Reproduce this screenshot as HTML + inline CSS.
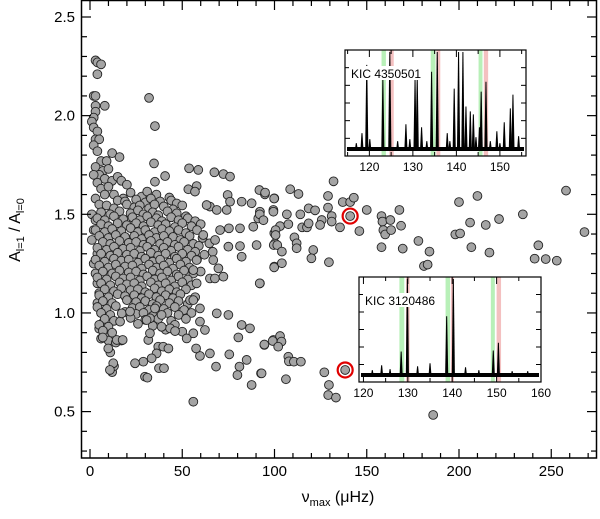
<!DOCTYPE html>
<html><head><meta charset="utf-8"><style>
html,body{margin:0;padding:0;background:#fff}
svg{display:block;font-family:"Liberation Sans","DejaVu Sans",sans-serif}
</style></head><body>
<svg id="chart" width="600" height="519" viewBox="0 0 600 519">
<g id="pts"></g>
<g id="frame"></g>
<g id="ins1"></g>
<g id="ins2"></g>
<text x="20" y="230" transform="rotate(-90 20 230)" text-anchor="middle" font-size="16">A<tspan font-size="11" dy="4">l=1</tspan><tspan dy="-4"> / A</tspan><tspan font-size="11" dy="4">l=0</tspan></text>
<text x="338" y="502" text-anchor="middle" font-size="16">ν<tspan font-size="11" dy="4">max</tspan><tspan dy="-4"> (μHz)</tspan></text>
</svg>
<script>
const NS="http://www.w3.org/2000/svg";
// ---- main scatter data: [numax, ratio] ----
const xTicks=[0,50,100,150,200,250];
const yTicks=[0.5,1.0,1.5,2.0,2.5];
const points=[
[3,2.28],[4,2.27],[6,2.26],[4,2.21],[2,2.1],[3,2.1],[8,2.05],[3,2.05],[3,2.02],[2,1.99],[1,1.97],[2,1.94],[4,1.92],[3,1.88],[5,1.88],[2,1.85],[4,1.82],[6,1.77],[12,1.81],[16,1.79],[9,1.77],[3,1.74],[7,1.72],[10,1.73],[5,1.7],[2,1.7],[8,1.68],[4,1.66],[12,1.67],[15,1.69],[17,1.67],[6,1.63],[10,1.64],[20,1.65],[3,1.58],[8,1.6],[13,1.6],[18,1.58],[1,1.5],[5,1.55],[3,1.47],[2,1.42],[1,1.37],[4,1.3],[2,1.25],[3,1.2],[4,1.15],[5,1.1],[4,1.05],[6,1.0],[7,0.95],[5,0.92],[6,0.87],[8,0.88],[10,0.86],[14,0.85],[17,0.86],[11,0.8],[12,0.7],[13,0.73],
[32,2.09],[35.2,1.947],[34.7,1.758],[40.7,1.694],[35.2,1.665],
[22,1.61],[28,1.59],[31,1.615],[36,1.6],[43,1.585],
[15,1.57],[19,1.565],[25,1.575],[30,1.56],[33,1.58],[38,1.565],[44,1.57],[47,1.555],
[9,1.545],[13,1.53],[20,1.55],[24,1.535],[27,1.545],[32,1.53],[35,1.55],[40,1.54],[45,1.525],[50,1.545],
[6,1.51],[11,1.5],[16,1.515],[22,1.505],[26,1.52],[29,1.5],[34,1.51],[37,1.495],[42,1.515],[47,1.505],[52,1.49],
[4,1.48],[8,1.47],[13,1.49],[18,1.475],[23,1.485],[27,1.47],[31,1.49],[36,1.48],[39,1.465],[44,1.485],[48,1.47],[53,1.48],[57,1.465],
[6,1.45],[10,1.44],[15,1.455],[20,1.445],[25,1.455],[29,1.44],[33,1.46],[37,1.445],[41,1.45],[46,1.435],[50,1.455],[55,1.44],[60,1.45],
[3,1.42],[8,1.41],[12,1.425],[17,1.415],[22,1.43],[26,1.41],[30,1.42],[35,1.41],[39,1.425],[43,1.415],[48,1.42],[52,1.405],[58,1.42],
[5,1.39],[10,1.38],[14,1.395],[19,1.385],[24,1.39],[28,1.375],[32,1.395],[36,1.38],[40,1.39],[45,1.385],[49,1.37],[54,1.39],[61,1.38],
[7,1.36],[11,1.35],[16,1.365],[21,1.355],[25,1.36],[29,1.345],[33,1.365],[38,1.35],[42,1.36],[46,1.345],[51,1.36],[56,1.35],[59,1.34],
[4,1.33],[9,1.32],[13,1.335],[18,1.325],[22,1.33],[27,1.315],[31,1.335],[35,1.32],[40,1.33],[44,1.315],[48,1.335],[53,1.32],[57,1.31],
[6,1.3],[11,1.29],[15,1.305],[20,1.295],[24,1.3],[28,1.285],[33,1.305],[37,1.29],[41,1.3],[46,1.285],[50,1.3],[55,1.29],[62,1.295],
[3,1.27],[8,1.26],[13,1.275],[17,1.265],[21,1.27],[26,1.255],[30,1.275],[34,1.26],[38,1.27],[43,1.255],[47,1.275],[52,1.26],[58,1.27],
[5,1.24],[10,1.23],[14,1.245],[19,1.235],[23,1.24],[28,1.225],[32,1.245],[36,1.23],[40,1.24],[45,1.225],[49,1.245],[54,1.23],
[7,1.21],[12,1.2],[16,1.215],[21,1.205],[25,1.21],[29,1.195],[34,1.215],[38,1.2],[42,1.21],[47,1.195],[51,1.215],[56,1.2],[60,1.21],
[4,1.18],[9,1.17],[14,1.185],[18,1.175],[22,1.18],[27,1.165],[31,1.185],[35,1.17],[39,1.18],[44,1.165],[48,1.185],[53,1.17],
[6,1.15],[11,1.14],[16,1.155],[20,1.145],[24,1.15],[28,1.135],[33,1.155],[37,1.14],[41,1.15],[46,1.135],[50,1.155],[55,1.14],
[8,1.12],[13,1.11],[17,1.125],[22,1.115],[26,1.12],[30,1.105],[35,1.125],[39,1.11],[43,1.12],[47,1.105],[52,1.12],
[5,1.09],[10,1.08],[15,1.095],[19,1.085],[24,1.09],[28,1.075],[32,1.095],[36,1.08],[41,1.09],[45,1.075],[49,1.095],[57,1.08],
[7,1.06],[12,1.05],[20,1.065],[25,1.055],[30,1.06],[34,1.045],[38,1.065],[43,1.05],[48,1.06],[53,1.045],
[4,1.03],[9,1.02],[14,1.035],[23,1.025],[27,1.03],[32,1.015],[36,1.035],[40,1.02],[46,1.03],[51,1.015],
[6,1.0],[11,0.99],[19,1.005],[25,0.995],[29,1.0],[34,0.985],[42,1.0],[48,0.99],[55,1.0],
[8,0.97],[13,0.96],[22,0.975],[30,0.965],[37,0.97],[44,0.96],[52,0.97],
[5,0.94],[10,0.93],[26,0.945],[34,0.935],[46,0.94],[7,0.91],[12,0.9],[41,0.915],[50,0.905],
[53.7,1.733],[58.7,1.725],[67.4,1.713],[72.3,1.704],[75.9,1.691],[53.3,1.627],[57.8,1.643],[56.9,1.615],[91.8,1.623],[94.8,1.601],[99.9,1.581],[82.2,1.564],[74.6,1.598],[87.6,1.556],[99.4,1.522],[92.1,1.513],[91.2,1.479],[88.5,1.437],[81.3,1.429],[75.3,1.429],[90.3,1.344],[81.3,1.339],[82.2,1.285],[99.9,1.404],[100.3,1.353],[99.9,1.235],[92.1,1.15],[75,0.99],[68.7,0.998],[82.2,0.939],[86.7,0.922],[80.4,0.876],[94.5,0.838],[99.4,0.863],[84.9,0.762],[81,0.728],[79.9,0.685],[92.7,0.694],[87.6,0.635],[68.3,0.728],[65,0.795],[59.6,0.782],[75.5,0.79],[56,0.55],
[54.2,1.065],[59.6,1.023],[66.5,1.31],[66.8,1.268],[65,1.175],[67.7,1.175],[72.3,1.184],[69.6,1.226],[75,1.336],[64.7,1.353],[67.8,1.37],[65,1.539],[63.2,1.547],[68.7,1.522],[74.1,1.522],[75.9,1.564],[70.5,1.42],[61.4,1.395],[57.8,1.268],[56,1.217],[57.8,1.15],[56,1.065],[59.6,0.956],[62.3,0.914],[56,0.897],[52.4,0.871],[57.5,0.82],[43.4,0.922],[46.1,0.908],[38.8,0.93],[31.6,0.863],[32.5,0.897],[37,0.829],[39.7,0.829],[42.5,0.82],[36.1,0.795],[33.4,0.77],[28.9,0.753],[24.4,0.745],[37.4,0.72],[40.1,0.72],[29.8,0.677],[31.1,0.672],[12.6,0.745],[10.8,0.711],[14.5,0.863],[17.7,0.863],[9.9,0.82],[6.9,0.876],[16.3,0.956],[17.2,0.998],[21.7,1.007],[32.5,0.973],[30.7,0.964],[38.8,0.99],[35.2,1.023],
[94.9,1.61],[99.8,1.58],[108.5,1.627],[113,1.603],[132,1.667],[129,1.593],[137,1.562],[141,1.562],[143,1.584],[150,1.522],[129,1.534],[99.4,1.513],[106.7,1.5],[114,1.5],[118.5,1.53],[122,1.52],[92,1.5],[94,1.47],[103,1.44],[107.5,1.45],[115,1.434],[117.6,1.434],[118.5,1.454],[125.6,1.471],[124.7,1.446],[131,1.491],[131,1.463],[135.5,1.434],[146,1.415],[158,1.491],[158.5,1.463],[162.8,1.471],[167.7,1.522],[168.6,1.442],[159,1.42],[160,1.398],[163.2,1.42],[158,1.333],[169.5,1.326],[178,1.365],[184,1.311],[181,1.238],[183,1.245],[100.6,1.42],[100.6,1.395],[110.8,1.383],[112,1.353],[112,1.328],[99.6,1.344],[101.5,1.344],[104,1.311],[99.8,1.231],[104,1.252],[121,1.319],[120,1.277],[129.5,1.257],[92,1.15],
[200,1.562],[210,1.593],[198,1.398],[200.6,1.403],[206,1.458],[214.5,1.446],[221.7,1.476],[234.6,1.5],[258,1.62],[268,1.41],[206.7,1.333],[216.5,1.306],[243,1.343],[241,1.275],[247,1.273],[253,1.265],
[94.5,0.84],[99,0.858],[103,0.883],[103.8,0.855],[102,0.829],[107.5,0.778],[107.8,0.755],[110.5,0.753],[114.3,0.753],[93,0.694],[106.2,0.664],[127,0.699],[129.5,0.635],[129.1,0.584],[133.3,0.571],[186,0.483]
];
const highlighted=[[141,1.491],[138.3,0.711]];
const xMin=-4.9,xMax=275,yMin=0.277,yMax=2.586;
const PL=81,PR=597,PT=0,PB=458;
function X(v){return 90+v*1.845;}
function Y(r){return 17+(2.5-r)*197.3;}
function mk(tag,attrs,parent){const e=document.createElementNS(NS,tag);for(const k in attrs)e.setAttribute(k,attrs[k]);parent.appendChild(e);return e;}
const gp=document.getElementById('pts');
points.forEach(p=>{
  const c=mk('circle',{cx:X(p[0]),cy:Y(p[1]),r:4.4,fill:'#a4a4a4',stroke:'#222','stroke-width':0.9},gp);
  
  
});
highlighted.forEach(p=>{
  const c=mk('circle',{cx:X(p[0]),cy:Y(p[1]),r:4.4,fill:'#a4a4a4',stroke:'#222','stroke-width':0.9},gp);
  
  
  const r=mk('circle',{cx:X(p[0]),cy:Y(p[1]),r:7.5,fill:'none',stroke:'#e00000','stroke-width':2.2},gp);
  
  
});
// frame
const gf=document.getElementById('frame');
mk('rect',{x:81.5,y:0.5,width:515,height:457.5,fill:'none',stroke:'#000','stroke-width':1.5},gf);
for(let v=0;v<=270;v+=10){const x=X(v);const L=(v%50===0)?9:5;
  mk('line',{x1:x,y1:458,x2:x,y2:458-L,stroke:'#000','stroke-width':1.2},gf);
  mk('line',{x1:x,y1:1,x2:x,y2:1+L,stroke:'#000','stroke-width':1.2},gf);}
for(let i=3;i<=25;i++){const r=i/10;const y=Y(r);const L=(i%5===0)?9:5;
  mk('line',{x1:82,y1:y,x2:82+L,y2:y,stroke:'#000','stroke-width':1.2},gf);
  mk('line',{x1:596,y1:y,x2:596-L,y2:y,stroke:'#000','stroke-width':1.2},gf);}
xTicks.forEach(v=>{const t=mk('text',{x:X(v),y:476,'text-anchor':'middle','font-size':15},gf);t.textContent=v;
  
  });
yTicks.forEach(r=>{const t=mk('text',{x:75,y:Y(r)+5,'text-anchor':'end','font-size':15},gf);t.textContent=r.toFixed(1);
  
  });
// ---- insets ----
const ins1Peaks=[[119.4,0.87],[123.1,0.72],[124.7,1.0],[128.4,0.27],[130.5,0.73],[131.0,0.75],[132.0,0.24],[134.3,0.8],[135.6,1.0],[137.9,0.18],[139.5,0.63],[140.5,1.0],[141.5,1.0],[142.2,0.45],[143.2,0.4],[143.9,0.37],[145.3,0.24],[145.7,0.6],[146.8,0.7],[149.3,0.2],[151.0,0.29],[152.4,0.43],[153.0,0.57],[154.3,0.15],[118.3,0.18],[120.1,0.12],[126.5,0.1],[129.3,0.12],[117,0.08],[133.2,0.1],[138.5,0.1],[144.5,0.14],[147.8,0.1],[150,0.08]];
const ins1Green=[[122.8,123.8],[134.1,135.2],[145.1,146.0]];
const ins1Red=[[124.6,125.6],[135.4,136.3],[146.3,147.3]];
const ins1Ticks=[120,130,140,150];
const ins2Peaks=[[128.5,0.26],[129.9,1.0],[138.75,0.62],[140.25,1.0],[149.25,0.27],[150.4,0.35],[132.2,0.11],[135.0,0.14],[124.1,0.12],[126,0.08],[143,0.1],[146,0.07],[153.5,0.06],[157,0.06],[122,0.07]];
const ins2Green=[[128.1,129.2],[138.5,139.5],[148.7,149.6]];
const ins2Red=[[129.6,130.4],[139.7,140.4],[150.0,151.0]];
const ins2Ticks=[120,130,140,150,160];
function inset(id,box,fmin,fmax,peaks,green,red,ticks,label){
  const g=document.getElementById(id);
  const [x0,y0,x1,y1]=box;
  const fx=f=>x0+(f-fmin)/(fmax-fmin)*(x1-x0);
  const base=y1-5, top=y0+2;
  const fy=h=>base-h*(base-top);
  mk('rect',{x:x0,y:y0,width:x1-x0,height:y1-y0,fill:'#fff'},g);
  green.forEach(b=>{const r=mk('rect',{x:fx(b[0]),y:y0,width:fx(b[1])-fx(b[0]),height:y1-y0,fill:'#b8f0b8'},g);
    
    });
  red.forEach(b=>{const r=mk('rect',{x:fx(b[0]),y:y0,width:fx(b[1])-fx(b[0]),height:y1-y0,fill:'#f4c0c0'},g);
    
    });
  mk('rect',{x:x0+2,y:base-4,width:x1-x0-4,height:4,fill:'#000'},g);
  peaks.forEach(p=>{const x=fx(p[0]);
    const pl=mk('polygon',{points:`${x-1.6},${base} ${x-0.5},${fy(p[1])} ${x+0.5},${fy(p[1])} ${x+1.6},${base}`,fill:'#000'},g);
    
    });
  mk('rect',{x:x0,y:y0,width:x1-x0,height:y1-y0,fill:'none',stroke:'#000','stroke-width':1.2},g);
  for(let f=Math.ceil(fmin/5)*5;f<=fmax;f+=5){const x=fx(f);const L=(f%10===0)?7:4;
    mk('line',{x1:x,y1:y1,x2:x,y2:y1-L,stroke:'#000'},g);mk('line',{x1:x,y1:y0,x2:x,y2:y0+L,stroke:'#000'},g);}
  for(let i=1;i<6;i++){const y=y0+(y1-y0)*i/6;mk('line',{x1:x0,y1:y,x2:x0+5,y2:y,stroke:'#000'},g);mk('line',{x1:x1,y1:y,x2:x1-5,y2:y,stroke:'#000'},g);}
  ticks.forEach(f=>{const t=mk('text',{x:fx(f),y:y1+15,'text-anchor':'middle','font-size':12},g);t.textContent=f;
    
    });
  const bg=mk('rect',{x:x0+4,y:y0+16,width:label.length*6.8,height:14,fill:'#fff'},g);
  const t=mk('text',{x:x0+6,y:y0+28,'font-size':12},g);t.textContent=label;
  
  
}
inset('ins1',[345,50,526,156],114.4,156,ins1Peaks,ins1Green,ins1Red,ins1Ticks,'KIC 4350501');
inset('ins2',[359,277,541,382],119,160,ins2Peaks,ins2Green,ins2Red,ins2Ticks,'KIC 3120486');
</script>
</body></html>
